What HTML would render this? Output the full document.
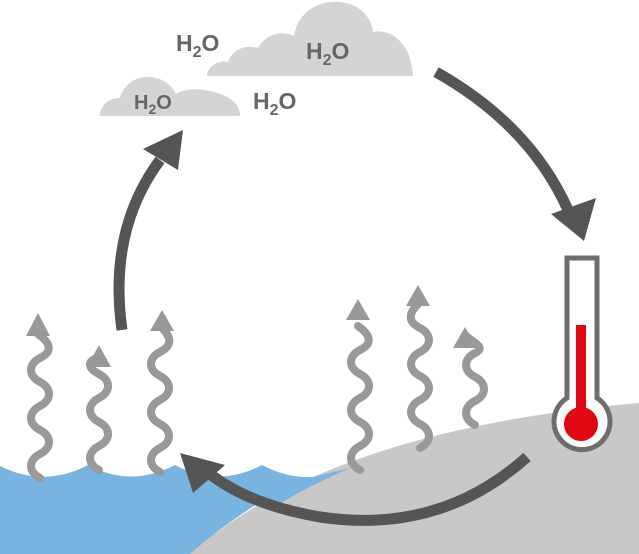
<!DOCTYPE html>
<html><head><style>html,body{margin:0;padding:0;background:#fff}svg{display:block}</style></head>
<body>
<svg width="639" height="554" viewBox="0 0 639 554" xmlns="http://www.w3.org/2000/svg">
<g fill="#d4d4d4">
<path d="M207,76 C207,66 218,60 228,62 C232,50 245,44 258,48 C266,34 282,30 294,36 C298,12 318,0 340,2 C360,4 372,18 373,32 C392,28 412,45 413,76 Z"/>
<path d="M100,116 C100,104 110,98 120,98 C124,84 136,76 150,77 C164,78 172,86 176,94 C186,88 200,88 214,92 C230,96 240,104 240,116 Z"/>
</g>
<g font-family="Liberation Sans, sans-serif" font-weight="bold" fill="#666">
<text x="176" y="51" font-size="23">H<tspan font-size="16" dy="6">2</tspan><tspan dy="-6">O</tspan></text>
<text x="306" y="59" font-size="23">H<tspan font-size="16" dy="6">2</tspan><tspan dy="-6">O</tspan></text>
<text x="134" y="109" font-size="20">H<tspan font-size="14" dy="5">2</tspan><tspan dy="-5">O</tspan></text>
<text x="253" y="109" font-size="23">H<tspan font-size="16" dy="6">2</tspan><tspan dy="-6">O</tspan></text>
</g>
<path d="M190,554 Q330,430 639,403 L639,554 Z" fill="#c8c8c8"/>
<path d="M0,466 Q44,488 88,465 Q131,488 175,465 Q218,488 262,465 Q305,488 350,468 L300,480 Q240,510 190,554 L0,554 Z" fill="#79b3e0"/>
<path d="M262,465 Q305,488 350,468 Q300,490 270,510 Z" fill="#79b3e0"/>
<g fill="none" stroke="#999" stroke-width="8" stroke-linecap="round">
<path d="M40,478 c-12,-6 -12,-18 0,-24 c12,-6 12,-18 0,-24 c-12,-6 -12,-18 0,-24 c12,-6 12,-18 0,-24 c-12,-6 -12,-18 0,-24 c12,-6 12,-14 -2,-24"/>
<path d="M99,470 c-12,-6 -12,-18 0,-24 c12,-6 12,-18 0,-24 c-12,-6 -12,-18 0,-24 c12,-6 12,-18 0,-24 c-12,-6 -12,-14 0,-16"/>
<path d="M160,472 c-12,-6 -12,-18 0,-24 c12,-6 12,-18 0,-24 c-12,-6 -12,-18 0,-24 c12,-6 12,-18 0,-24 c-12,-6 -12,-18 0,-24 c12,-6 12,-14 2,-24"/>
<path d="M360,470 c-12,-6 -12,-18 0,-24 c12,-6 12,-18 0,-24 c-12,-6 -12,-18 0,-24 c12,-6 12,-18 0,-24 c-12,-6 -12,-18 0,-24 c12,-6 12,-14 -2,-24"/>
<path d="M420,448 c12,-6 12,-18 0,-24 c-12,-6 -12,-18 0,-24 c12,-6 12,-18 0,-24 c-12,-6 -12,-18 0,-24 c12,-6 12,-18 0,-24 c-12,-6 -12,-14 -2,-24"/>
<path d="M475,425 c-12,-6 -12,-18 0,-24 c12,-6 12,-18 0,-24 c-12,-6 -12,-18 0,-24 c12,-6 -2,-10 -10,-18"/>
</g>
<g fill="#999">
<polygon points="38,313 26,336 50,336"/>
<polygon points="99,345 87,367 111,367"/>
<polygon points="162,310 150,331 174,331"/>
<polygon points="358,299 346,320 370,320"/>
<polygon points="418,285 406,306 430,306"/>
<polygon points="465,327 453,348 477,348"/>
</g>
<path d="M567,258 L597,258 L597,398 A28,28 0 1 1 567,398 Z" fill="#fff" stroke="#6d6d6d" stroke-width="5"/>
<rect x="576" y="325" width="10" height="90" fill="#e30613"/>
<circle cx="581" cy="424" r="17" fill="#e30613"/>
<g fill="none" stroke="#555" stroke-width="11">
<path d="M436,72 Q530,125 568,210"/>
<path d="M527,457 Q440,535 320,517 Q250,505 210,474"/>
<path d="M122,330 Q108,230 160,160"/>
</g>
<g fill="#555">
<polygon points="584,241 551,214 596,198"/>
<polygon points="180,453 225,465 193,493"/>
<polygon points="183,130 143,149 178,170"/>
</g>
</svg>
</body></html>
